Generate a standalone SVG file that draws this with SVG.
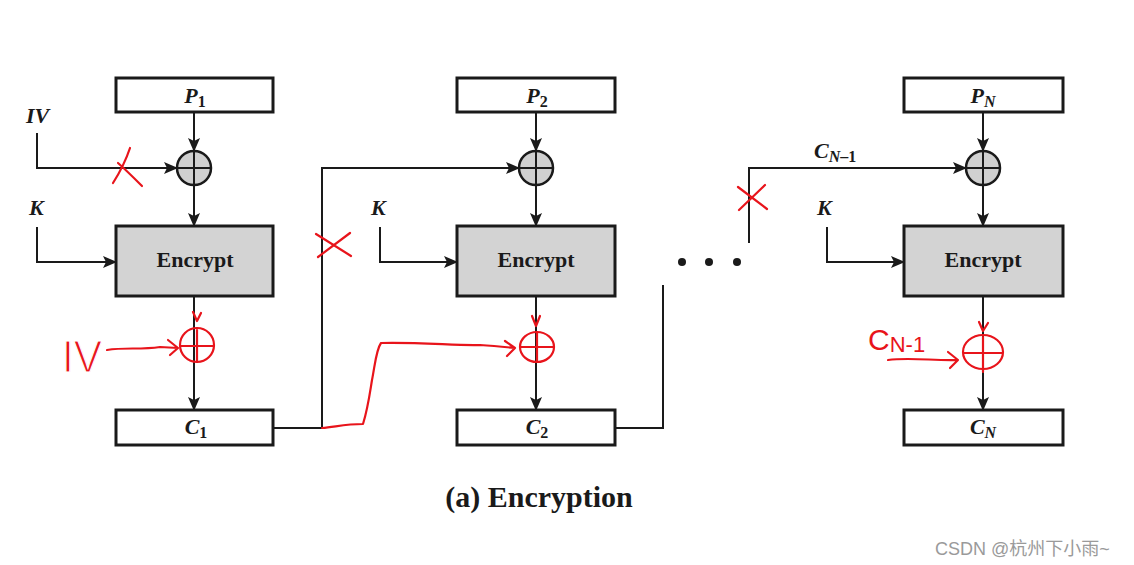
<svg xmlns="http://www.w3.org/2000/svg" width="1134" height="565" viewBox="0 0 1134 565">
<style>
.box{fill:#fff;stroke:#1a1a1a;stroke-width:3}
.enc{fill:#d3d3d3;stroke:#1a1a1a;stroke-width:3}
.xor{fill:#d0d0d0;stroke:#1a1a1a;stroke-width:2.5}
.ln{fill:none;stroke:#1a1a1a;stroke-width:2}
.lbl{font-family:"Liberation Serif",serif;font-weight:bold;font-style:italic;font-size:22px;fill:#1a1a1a}
.sub{font-style:normal;font-size:16px}
.subi{font-size:16px}
.et{font-family:"Liberation Serif",serif;font-weight:bold;font-size:22px;fill:#1a1a1a}
.red{fill:none;stroke:#e8141b;stroke-width:2.2;stroke-linecap:round;stroke-linejoin:round}
.rt{font-family:"Liberation Sans",sans-serif;fill:#e8141b}
</style>
<defs>
<marker id="ah" markerUnits="userSpaceOnUse" markerWidth="14" markerHeight="12" refX="13" refY="6" orient="auto">
<path d="M0,0 L14,6 L0,12 L3,6 Z" fill="#1a1a1a"/>
</marker>
</defs>
<rect width="1134" height="565" fill="#fff"/>

<g id="connectors">
<path class="ln" d="M194,113 V151" marker-end="url(#ah)"/>
<path class="ln" d="M194,185 V226" marker-end="url(#ah)"/>
<path class="ln" d="M194,296 V410" marker-end="url(#ah)"/>
<path class="ln" d="M37,133 V168 H177" marker-end="url(#ah)"/>
<path class="ln" d="M37,227 V262 H116" marker-end="url(#ah)"/>
<path class="ln" d="M273,428 H322 V168 H519" marker-end="url(#ah)"/>
<path class="ln" d="M536,113 V151" marker-end="url(#ah)"/>
<path class="ln" d="M536,185 V226" marker-end="url(#ah)"/>
<path class="ln" d="M536,296 V410" marker-end="url(#ah)"/>
<path class="ln" d="M380,227 V262 H457" marker-end="url(#ah)"/>
<path class="ln" d="M615,428 H663 V285"/>
<path class="ln" d="M749,243 V168 H966" marker-end="url(#ah)"/>
<path class="ln" d="M983,113 V151" marker-end="url(#ah)"/>
<path class="ln" d="M983,185 V226" marker-end="url(#ah)"/>
<path class="ln" d="M983,296 V410" marker-end="url(#ah)"/>
<path class="ln" d="M827,227 V262 H904" marker-end="url(#ah)"/>
</g>

<g id="P1"><rect class="box" x="116" y="78" width="157" height="34"/><text class="lbl" x="195" y="103" text-anchor="middle">P<tspan class="sub" dy="4">1</tspan></text></g>
<g id="xor1"><circle class="xor" cx="194" cy="168" r="17"/><path class="ln" d="M177,168 H211 M194,151 V185" stroke-width="2.5"/></g>
<g id="IV"><text class="lbl" x="26" y="123">IV</text></g>
<g id="K1"><text class="lbl" x="29" y="215">K</text></g>
<g id="enc1"><rect class="enc" x="116" y="226" width="157" height="70"/><text class="et" x="195" y="267" text-anchor="middle">Encrypt</text></g>
<g id="C1"><rect class="box" x="116" y="410" width="157" height="35"/><text class="lbl" x="196" y="434" text-anchor="middle">C<tspan class="sub" dy="4">1</tspan></text></g>

<g id="P2"><rect class="box" x="457" y="78" width="158" height="34"/><text class="lbl" x="537" y="103" text-anchor="middle">P<tspan class="sub" dy="4">2</tspan></text></g>
<g id="xor2"><circle class="xor" cx="536" cy="168" r="17"/><path class="ln" d="M519,168 H553 M536,151 V185" stroke-width="2.5"/></g>
<g id="K2"><text class="lbl" x="371" y="215">K</text></g>
<g id="enc2"><rect class="enc" x="457" y="226" width="158" height="70"/><text class="et" x="536" y="267" text-anchor="middle">Encrypt</text></g>
<g id="C2"><rect class="box" x="457" y="410" width="158" height="35"/><text class="lbl" x="537" y="434" text-anchor="middle">C<tspan class="sub" dy="4">2</tspan></text></g>

<g id="dots"><circle cx="682" cy="262" r="4" fill="#1a1a1a"/><circle cx="709" cy="262" r="4" fill="#1a1a1a"/><circle cx="737" cy="262" r="4" fill="#1a1a1a"/></g>

<g id="CN1label"><text class="lbl" x="814" y="158">C<tspan class="subi" dy="4">N</tspan><tspan class="sub" dy="0">–1</tspan></text></g>
<g id="PN"><rect class="box" x="904" y="78" width="159" height="34"/><text class="lbl" x="983" y="103" text-anchor="middle">P<tspan class="subi" dy="4">N</tspan></text></g>
<g id="xor3"><circle class="xor" cx="983" cy="168" r="17"/><path class="ln" d="M966,168 H1000 M983,151 V185" stroke-width="2.5"/></g>
<g id="K3"><text class="lbl" x="817" y="215">K</text></g>
<g id="enc3"><rect class="enc" x="904" y="226" width="159" height="70"/><text class="et" x="983" y="267" text-anchor="middle">Encrypt</text></g>
<g id="CN"><rect class="box" x="904" y="410" width="159" height="35"/><text class="lbl" x="983" y="434" text-anchor="middle">C<tspan class="subi" dy="4">N</tspan></text></g>

<g id="title"><text x="539" y="507" text-anchor="middle" font-family="Liberation Serif, serif" font-weight="bold" font-size="30" fill="#1a1a1a">(a) Encryption</text></g>

<g id="annotations">
<path class="red" d="M130,148 C126,160 120,172 113,183 M118,163 C126,170 134,178 142,186"/>
<path class="red" d="M316,234 L351,256 M350,233 L318,257"/>
<path class="red" d="M738,187 L767,209 M765,185 L739,210"/>
<text class="rt" x="62" y="372" font-size="44" font-weight="normal" textLength="40" lengthAdjust="spacingAndGlyphs" stroke="#fff" stroke-width="1.2">IV</text>
<path class="red" d="M107,350 C125,347 140,350 160,347 L178,348 M168,340 L178,348 L170,355"/>
<ellipse class="red" cx="197" cy="345" rx="17" ry="17"/>
<path class="red" d="M181,346 H214 M197,330 V362 M193,312 L197,321 L201,313"/>
<path class="red" d="M322,428 C335,427 345,424 363,424 C368,408 370,392 372,380 C375,365 376,350 381,343 C420,342 460,346 480,345 C495,346 505,347 515,348 M505,341 L515,348 L507,356"/>
<ellipse class="red" cx="537" cy="347" rx="17" ry="15"/>
<path class="red" d="M521,347 H553 M537,332 V362 M532,316 L536,326 L540,316"/>
<text class="rt" x="868" y="350" font-size="30">C<tspan font-size="22" dy="2">N-1</tspan></text>
<path class="red" d="M888,360 C910,357 935,361 958,360 M948,352 L958,360 L950,368"/>
<ellipse class="red" cx="983" cy="352" rx="20" ry="17"/>
<path class="red" d="M964,353 H1002 M983,337 V372 M979,322 L983,331 L988,323"/>
</g>

<g id="watermark"><text x="935" y="555" font-family="Liberation Sans, Noto Sans CJK SC, sans-serif" font-size="18" fill="#9a9a9a">CSDN @杭州下小雨~</text></g>
</svg>
